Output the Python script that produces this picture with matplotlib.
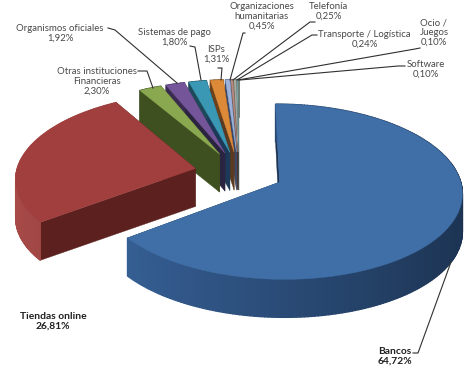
import numpy as np
import matplotlib
matplotlib.use('Agg')
from matplotlib import pyplot
from matplotlib.colors import to_rgb

names = ['Bancos', 'Tiendas online', 'Otras instituciones\nFinancieras', 'Organismos oficiales',
         'Sistemas de pago', 'ISPs', 'Organizaciones\nhumanitarias', 'Telefonía',
         'Transporte / Logística', 'Ocio /\nJuegos', 'Software']
values = [64.72, 26.81, 2.30, 1.92, 1.80, 1.31, 0.45, 0.25, 0.24, 0.10, 0.10]

top_colors = ['#3f6fa6', '#a03f3e', '#8aa84f', '#75559a', '#3a98b4', '#dc8a38',
              '#9db2da', '#b08a80', '#a0a8a0', '#80a8b0', '#88a090']
wall_left = ['#38639a', '#a84a48', '#3e4f20', '#3a2b50', '#1c4a58', '#6b401a',
             '#3c4a68', '#50342c', '#484c48', '#3c5054', '#404c44']
wall_right = ['#1c3352', '#5c2a28', '#3e4f20', '#3a2b50', '#1c4a58', '#6b401a',
              '#3c4a68', '#50342c', '#484c48', '#3c5054', '#404c44']
edge_wall = ['#1c3352', '#5c211e', '#3e4f20', '#2a2440', '#1c3a58', '#5a3a20',
             '#3c4a68', '#50342c', '#484c48', '#3c5054', '#404c44']

# text centre of each label, and the leader line (text end, elbow, slice end)
label_pos = [(395, 356.5), (53, 321), (97, 81), (60, 33), (174, 37.5), (216.5, 54.5),
             (262, 16.5), (328.5, 11.5), (364.5, 39), (434, 32.5), (426, 69.5)]
leaders = [[(413, 353), (418, 353), (451, 262)],
           None,
           [(138, 71), (147, 71), (153, 88)],
           [(108, 28), (115, 30), (177, 83)],
           [(190, 46), (195, 47), (201, 80)],
           [(218, 68), (222, 68), (221, 80)],
           [(245, 33), (243, 33), (230, 80)],
           [(315, 22), (310, 22), (233, 80)],
           [(317, 35), (312, 35), (237, 80)],
           [(420, 48), (415, 49), (238, 80)],
           [(405, 66), (398, 66), (240, 80)]]

# disc -> picture, small perspective so the far side comes out shorter
CX, CY = 239, 172.6
RX, RY = 179, 84.5
PERSP = 0.108
EXPLODE = 0.25
DEPTH = 38


def project(px, py):
    w = 1 + PERSP * py
    return CX + RX * px / w, CY - RY * py / w


def mix(c1, c2, t):
    return tuple(a + (b - a) * t for a, b in zip(to_rgb(c1), to_rgb(c2)))


def draw_slice(ax, start, end, i):
    mid = (start + end) / 2
    ox, oy = EXPLODE * np.sin(mid), EXPLODE * np.cos(mid)
    ang = np.linspace(start, end, max(3, int(np.degrees(end - start))))
    xs, ys = project(ox + np.sin(ang), oy + np.cos(ang))
    ax0, ay0 = project(ox, oy)

    # radial walls
    for k in (0, -1):
        ax.fill([ax0, xs[k], xs[k], ax0], [ay0, ys[k], ys[k] + DEPTH, ay0 + DEPTH],
                color=edge_wall[i], lw=0.3, zorder=2)
    # outer wall, dark on the right of the pie and light on the left
    for k in range(len(ang) - 1):
        c = mix(wall_right[i], wall_left[i], (1 - np.sin(ang[k])) / 2)
        ax.fill([xs[k], xs[k + 1], xs[k + 1], xs[k]],
                [ys[k], ys[k + 1], ys[k + 1] + DEPTH, ys[k] + DEPTH],
                color=c, lw=1.0, zorder=2)
    ax.fill(np.r_[ax0, xs], np.r_[ay0, ys], color=top_colors[i], lw=0.3, zorder=2)


pyplot.rcParams['font.family'] = ['Lato', 'DejaVu Sans']
fig = pyplot.figure(figsize=(4.77, 3.75), dpi=100)
ax = fig.add_axes([0, 0, 1, 1])
ax.set_xlim(0, 477)
ax.set_ylim(375, 0)
ax.set_axis_off()

edges = np.radians(np.r_[0, np.cumsum(values)] * 360 / sum(values))
for i in reversed(range(len(values))):
    draw_slice(ax, edges[i], edges[i + 1], i)

for i, name in enumerate(names):
    if leaders[i]:
        xs, ys = zip(*leaders[i])
        ax.plot(xs, ys, color='#303030', lw=0.8, zorder=3)
    strong = i < 2
    ax.text(*label_pos[i], name + '\n' + f'{values[i]:.2f}'.replace('.', ',') + '%',
            ha='center', va='center', fontsize=7.4 if strong else 6.9, linespacing=1.12,
            color='#202020' if strong else '#484848',
            fontweight='bold' if strong else 'normal', zorder=4)

fig.savefig('out.png', dpi=100)
